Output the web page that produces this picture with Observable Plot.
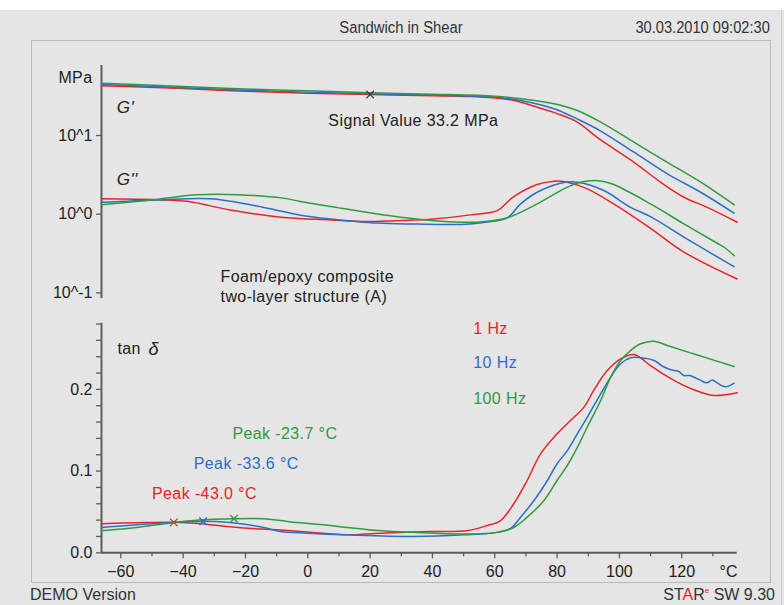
<!DOCTYPE html>
<html><head><meta charset="utf-8">
<script src="https://cdn.jsdelivr.net/npm/d3@7"></script>
<script src="https://cdn.jsdelivr.net/npm/@observablehq/plot@0.6"></script>
<style>
html,body{margin:0;padding:0;background:#fff;}
#page{position:relative;width:784px;height:605px;overflow:hidden;background:#e4e5e4;font-family:"Liberation Sans",Arial,sans-serif;}
#topstrip{position:absolute;left:0;top:0;width:784px;height:10px;background:#fff;}
#edge{position:absolute;left:781px;top:10px;width:1px;height:595px;background:#cdcecd;}
#frame{position:absolute;left:31px;top:40px;width:740px;height:543px;border:1.5px solid #b9bab9;box-sizing:border-box;}
.narrow{font-family:"Liberation Sans Narrow","Liberation Sans",Arial,sans-serif;color:#333;font-size:16px;position:absolute;white-space:nowrap;line-height:16px;}
#title{left:301px;width:200px;text-align:center;top:20px;transform:scaleX(0.925);transform-origin:50% 50%;}
#date{right:14px;top:20px;transform:scaleX(0.915);transform-origin:100% 50%;}
#demo{left:30px;top:587px;}
#star{right:9px;top:587px;}
#star .r{color:#e8232a;}
#star sup{font-size:8px;color:#e8232a;vertical-align:top;line-height:8px;}
.plotbox{position:absolute;left:0;}
#page g[aria-label="text"] text{letter-spacing:0.4px;}
</style>
</head><body>
<div id="page">
  <div id="topstrip"></div>
  <div id="edge"></div>
  <div id="frame"></div>
  <div class="narrow" id="title">Sandwich in Shear</div>
  <div class="narrow" id="date">30.03.2010 09:02:30</div>
  <div class="narrow" id="demo">DEMO Version</div>
  <div class="narrow" id="star">ST<span class="r">A</span>R<sup>e</sup> SW 9.30</div>
  <div class="plotbox" id="topplot" style="top:0px"></div>
  <div class="plotbox" id="botplot" style="top:300px"></div>
</div>
<script>
// ---------- data ----------
const freqs = ["1 Hz", "10 Hz", "100 Hz"];
const colors = ["#e8232a", "#2c6fc4", "#2e9b3e"];
const tempDomain = [-66.2, 137.8];
const xMajorTicks = [-60, -40, -20, 0, 20, 40, 60, 80, 100, 120];
const xMinorTicks = [-50, -30, -10, 10, 30, 50, 70, 90, 110, 130];
const unitTick = [135];
const unitLabel = "°C";
const gDomain = [0.0848, 77.6];
const gTicks = [0.1, 1, 10];
const gTickLabels = ["10^-1", "10^0", "10^1"];
const gUnit = "MPa";
const tanDomain = [0, 0.281];
const tanMajorTicks = [0, 0.1, 0.2];
const tanMinorTicks = [0.02, 0.04, 0.06, 0.08, 0.12, 0.14, 0.16, 0.18, 0.22, 0.24, 0.26, 0.28];

// G' storage modulus (MPa) [temperature °C, value]
const gPrime1Hz = [[-66.2,42.9],[-40,39.5],[-20,36.5],[0,34.5],[20,33.2],[40,32.0],[52.2,31.3],[60,30.0],[65.1,28.4],[73.6,22.9],[80,19.0],[86.5,14.8],[93.3,9.2],[104.7,4.57],[113.2,2.55],[120.7,1.64],[128.2,1.22],[137.8,0.79]];
const gPrime10Hz = [[-66.2,44.6],[-40,40.5],[-20,37.6],[0,35.6],[20,34.0],[40,32.7],[60,30.8],[68.3,27.9],[79,21.9],[87.5,15.5],[94,11.4],[104.7,6.13],[115.4,3.25],[126.1,1.90],[136.8,1.03]];
const gPrime100Hz = [[-66.2,46.2],[-40,42.0],[-20,39.0],[0,37.0],[20,34.9],[40,33.5],[60,31.6],[68.3,29.3],[79,25.3],[86.5,20.8],[94,14.8],[104.7,8.22],[115.4,4.57],[126.1,2.55],[136.8,1.32]];
// G'' loss modulus (MPa)
const gDouble1Hz = [[-66.2,1.57],[-48,1.53],[-38.7,1.46],[-24.8,1.13],[-8.8,0.914],[7.3,0.846],[19,0.81],[30,0.83],[40.4,0.87],[52.2,0.98],[60.8,1.11],[64,1.42],[66.1,1.67],[73.6,2.38],[79,2.63],[83.3,2.55],[89.7,2.1],[98.2,1.35],[110,0.66],[120.7,0.33],[137.8,0.15]];
const gDouble10Hz = [[-66.2,1.42],[-48,1.52],[-31.2,1.57],[-14.1,1.22],[-2.3,0.97],[7.3,0.87],[22.3,0.77],[35,0.75],[49,0.74],[57,0.79],[64,0.90],[68.3,1.35],[73.6,1.90],[81.1,2.48],[86.5,2.55],[95,2.0],[103.6,1.22],[110,0.93],[120.7,0.51],[136.8,0.215]];
const gDouble100Hz = [[-66.2,1.32],[-48,1.55],[-35.5,1.76],[-22.7,1.77],[-8,1.6],[-2.3,1.45],[7.3,1.25],[29.8,0.914],[49,0.79],[57,0.81],[64,0.90],[73.6,1.35],[82.2,2.1],[87.5,2.55],[94,2.65],[98.2,2.38],[110,1.35],[120.7,0.753],[131.4,0.427],[133.6,0.38],[136.8,0.297]];
// tan delta
const tan1Hz = [[-66.2,0.0355],[-55,0.0368],[-43,0.0375],[-35,0.036],[-25,0.032],[-15,0.029],[-8.8,0.028],[0,0.0255],[12.6,0.022],[23.3,0.024],[39.4,0.026],[51,0.027],[57.6,0.0334],[61.9,0.0395],[66.1,0.06],[70.4,0.0885],[74.7,0.121],[80,0.1456],[84.3,0.162],[88.6,0.178],[91.8,0.199],[96.1,0.223],[100.4,0.2374],[104.7,0.2427],[107,0.238],[110,0.229],[117.5,0.211],[123.9,0.1995],[130.3,0.1925],[137.8,0.1958]];
const tan10Hz = [[-66.2,0.031],[-50,0.0355],[-33.6,0.0387],[-25,0.037],[-14.1,0.031],[-8.8,0.026],[0,0.024],[12.6,0.022],[34,0.020],[50,0.022],[60.8,0.025],[65.1,0.030],[68.3,0.0436],[72.6,0.064],[76.9,0.0885],[80,0.109],[83.3,0.125],[86.5,0.1456],[89.7,0.166],[94,0.1946],[97.2,0.215],[100.4,0.2313],[103.6,0.2387],[106.8,0.2387],[111.1,0.2354],[114,0.228],[116.5,0.224],[119,0.222],[120.7,0.217],[122.5,0.217],[126.1,0.211],[128,0.208],[129.8,0.2116],[131,0.209],[133.5,0.2035],[135,0.204],[136.8,0.2076]];
const tan100Hz = [[-66.2,0.027],[-55,0.031],[-45,0.036],[-35,0.040],[-23.7,0.0416],[-14.1,0.0416],[-8.8,0.0395],[-3.4,0.037],[7.3,0.0334],[12.6,0.031],[20,0.028],[34,0.025],[50,0.023],[60.8,0.025],[66.1,0.031],[70.4,0.0436],[75.8,0.064],[80,0.0885],[83.3,0.107],[86.5,0.129],[89.7,0.154],[94,0.1864],[97.2,0.215],[100.4,0.2354],[103.6,0.2476],[106.8,0.2558],[111.1,0.259],[115.4,0.2537],[125,0.242],[136.8,0.228]];

// peaks and markers
const peakTemps = [-43.0, -33.6, -23.7];
const peakValues = [0.0372, 0.0387, 0.0416];
const peakLabels = ["Peak -43.0 °C", "Peak -33.6 °C", "Peak -23.7 °C"];
const peakLabelPos = [[-50, 0.0722], [-36.6, 0.109], [-24.2, 0.1457]];
const signalPoint = [20, 33.2];
const signalLabel = "Signal Value 33.2 MPa";
const signalLabelPos = [6.6, 15.2];
const curveLabels = ["G'", "G''"];
const curveLabelPos = [[-61.3, 22.9], [-61.3, 2.74]];
const sampleLabels = ["Foam/epoxy composite", "two-layer structure (A)"];
const sampleLabelPos = [[-28, 0.1614], [-28, 0.0881]];
const freqLabelPos = [[53.1, 0.2745], [53.1, 0.2321], [53.1, 0.1885]];
const tanLabelPos = [-61.1, 0.2497];

// ---------- build ----------
const tidy = (series) => series.flatMap((pts, i) => pts.map(([T, v]) => ({T, v, f: freqs[i]})));
const axisColor = "#5c5c5c";
const textColor = "#222";
const font = "'Liberation Sans', Arial, sans-serif";
const common = {
  width: 784,
  marginLeft: 101,
  marginRight: 47.3,
  style: {background: "transparent", overflow: "visible", fontFamily: font, color: textColor},
  color: {domain: freqs, range: colors}
};

const topPlot = Plot.plot({
  ...common,
  height: 310,
  marginTop: 65,
  marginBottom: 12,
  x: {domain: tempDomain, axis: null, label: null},
  y: {type: "log", domain: gDomain, axis: null, label: null},
  marks: [
    Plot.ruleX([tempDomain[0]], {stroke: axisColor, strokeWidth: 2}),
    Plot.axisY({ticks: gTicks, tickFormat: d => gTickLabels[gTicks.indexOf(d)], tickSize: 5, tickPadding: 4, fontSize: 16, stroke: axisColor, strokeWidth: 1.3, label: null}),
    Plot.text([gUnit], {frameAnchor: "top-left", text: d => d, textAnchor: "end", lineAnchor: "middle", dx: -9, dy: 12, fontSize: 16, fill: textColor}),
    Plot.line(tidy([gPrime1Hz, gPrime10Hz, gPrime100Hz]).map(d => ({...d, s: "p" + d.f})), {x: "T", y: "v", z: "s", stroke: "f", strokeWidth: 1.5, curve: "catmull-rom"}),
    Plot.line(tidy([gDouble1Hz, gDouble10Hz, gDouble100Hz]).map(d => ({...d, s: "d" + d.f})), {x: "T", y: "v", z: "s", stroke: "f", strokeWidth: 1.5, curve: "catmull-rom"}),
    Plot.dot([signalPoint], {x: d => d[0], y: d => d[1], symbol: "times", r: 3.5, stroke: "#444", strokeWidth: 1.3}),
    Plot.text(curveLabels, {x: (d, i) => curveLabelPos[i][0], y: (d, i) => curveLabelPos[i][1], text: d => d, textAnchor: "start", fontSize: 17, fontStyle: "italic", fill: textColor}),
    Plot.text([signalLabel], {x: signalLabelPos[0], y: signalLabelPos[1], text: d => d, textAnchor: "start", fontSize: 16, fill: textColor}),
    Plot.text(sampleLabels, {x: (d, i) => sampleLabelPos[i][0], y: (d, i) => sampleLabelPos[i][1], text: d => d, textAnchor: "start", fontSize: 16, fill: textColor})
  ]
});

const botPlot = Plot.plot({
  ...common,
  height: 300,
  marginTop: 22.7,
  marginBottom: 47.7,
  x: {domain: tempDomain, axis: null, label: null},
  y: {domain: tanDomain, axis: null, label: null},
  marks: [
    Plot.ruleX([tempDomain[0]], {stroke: axisColor, strokeWidth: 2}),
    Plot.ruleY([tanDomain[0]], {stroke: axisColor, strokeWidth: 2}),
    Plot.axisY({ticks: tanMajorTicks, tickFormat: ".1f", tickSize: 5, tickPadding: 4, fontSize: 16, stroke: axisColor, strokeWidth: 1.3, label: null}),
    Plot.axisY({ticks: tanMinorTicks, tickFormat: () => "", tickSize: 5, stroke: axisColor, strokeWidth: 1.3, label: null}),
    Plot.axisX({ticks: xMajorTicks, tickSize: 6, tickPadding: 7, fontSize: 16, stroke: axisColor, strokeWidth: 1.3, label: null}),
    Plot.axisX({ticks: xMinorTicks, tickFormat: () => "", tickSize: 4, stroke: axisColor, strokeWidth: 1.3, label: null}),
    Plot.axisX({ticks: unitTick, tickFormat: () => unitLabel, tickSize: 0, tickPadding: 13, fontSize: 16, label: null}),
    Plot.line(tidy([tan1Hz, tan10Hz, tan100Hz]), {x: "T", y: "v", z: "f", stroke: "f", strokeWidth: 1.5, curve: "catmull-rom"}),
    Plot.dot(freqs, {x: (d, i) => peakTemps[i], y: (d, i) => peakValues[i], symbol: "times", r: 3.5, stroke: d => d, strokeWidth: 1.3}),
    Plot.text(["tan"], {x: tanLabelPos[0], y: tanLabelPos[1], text: d => d, textAnchor: "start", fontSize: 16, fill: textColor}),
    Plot.text(["δ"], {x: tanLabelPos[0], y: tanLabelPos[1], text: d => d, textAnchor: "start", dx: 31, fontSize: 18, fontStyle: "italic", fill: textColor}),
    Plot.text(freqs, {x: (d, i) => freqLabelPos[i][0], y: (d, i) => freqLabelPos[i][1], text: d => d, fill: d => d, textAnchor: "start", fontSize: 16}),
    Plot.text(freqs, {x: (d, i) => peakLabelPos[i][0], y: (d, i) => peakLabelPos[i][1], text: (d, i) => peakLabels[i], fill: d => d, textAnchor: "start", fontSize: 16})
  ]
});

document.getElementById("topplot").appendChild(topPlot);
document.getElementById("botplot").appendChild(botPlot);
</script>
</body></html>
